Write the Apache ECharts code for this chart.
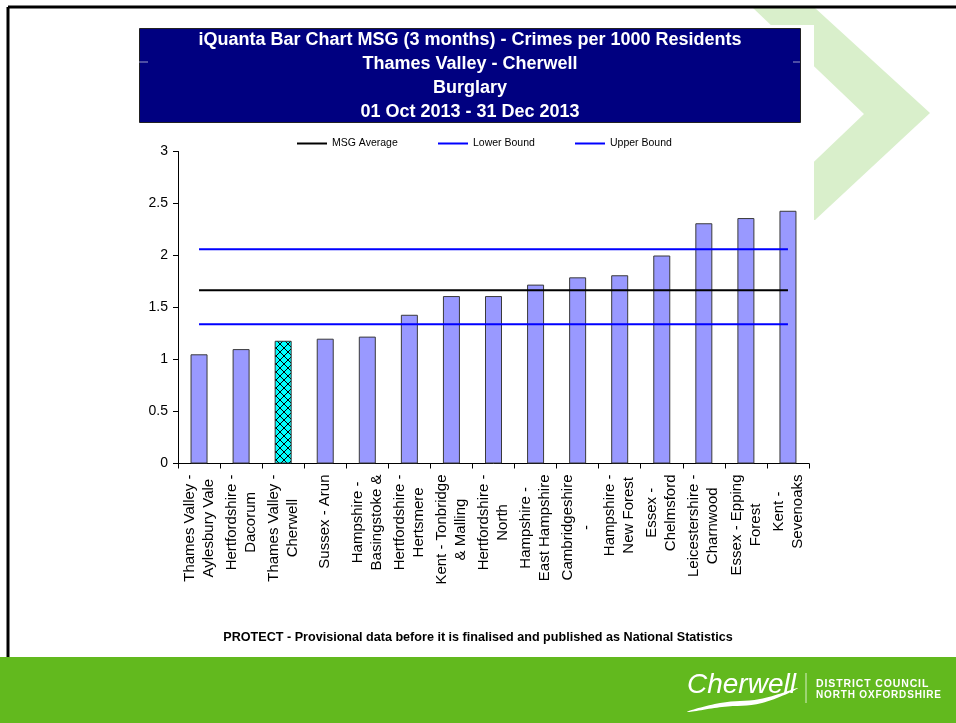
<!DOCTYPE html>
<html><head><meta charset="utf-8">
<script src="https://cdn.jsdelivr.net/npm/echarts@6/dist/echarts.min.js"></script>
<style>html,body{margin:0;padding:0;background:#fff}#c{width:956px;height:723px}</style>
</head><body><div id="c"></div>
<script>
// ---- data ----
const categories = [
  'Thames Valley -\nAylesbury Vale',
  'Hertfordshire -\nDacorum',
  'Thames Valley -\nCherwell',
  'Sussex - Arun',
  'Hampshire -\nBasingstoke &',
  'Hertfordshire -\nHertsmere',
  'Kent - Tonbridge\n& Malling',
  'Hertfordshire -\nNorth',
  'Hampshire -\nEast Hampshire',
  'Cambridgeshire\n-',
  'Hampshire -\nNew Forest',
  'Essex -\nChelmsford',
  'Leicestershire -\nCharnwood',
  'Essex - Epping\nForest',
  'Kent -\nSevenoaks'
];
const crimeRates = [1.05, 1.10, 1.18, 1.20, 1.22, 1.43, 1.61, 1.61, 1.72, 1.79, 1.81, 2.00, 2.31, 2.36, 2.43];
const highlightedCategory = 'Thames Valley -\nCherwell';
const msgAverage = [1.665, 1.665, 1.665, 1.665, 1.665, 1.665, 1.665, 1.665, 1.665, 1.665, 1.665, 1.665, 1.665, 1.665, 1.665];
const lowerBound = [1.34, 1.34, 1.34, 1.34, 1.34, 1.34, 1.34, 1.34, 1.34, 1.34, 1.34, 1.34, 1.34, 1.34, 1.34];
const upperBound = [2.06, 2.06, 2.06, 2.06, 2.06, 2.06, 2.06, 2.06, 2.06, 2.06, 2.06, 2.06, 2.06, 2.06, 2.06];
const yMin = 0, yMax = 3, yInterval = 0.5;
const titleLines = [
  'iQuanta Bar Chart MSG (3 months) - Crimes per 1000 Residents',
  'Thames Valley - Cherwell',
  'Burglary',
  '01 Oct 2013 - 31 Dec 2013'
];
const footnote = 'PROTECT - Provisional data before it is finalised and published as National Statistics';
const seriesNames = ['MSG Average', 'Lower Bound', 'Upper Bound'];

// ---- hatch pattern for highlighted bar ----
const pc = document.createElement('canvas');
pc.width = 8; pc.height = 8;
const g = pc.getContext('2d');
g.fillStyle = '#00FFFF'; g.fillRect(0, 0, 8, 8);
g.strokeStyle = '#000'; g.lineWidth = 1;
g.beginPath(); g.moveTo(0, 0); g.lineTo(8, 8); g.moveTo(8, 0); g.lineTo(0, 8); g.stroke();

const barData = crimeRates.map((v, i) => categories[i] === highlightedCategory
  ? { value: v, itemStyle: { color: { image: pc, repeat: 'repeat' }, borderColor: '#333' } }
  : v);

const FONT = '"Liberation Sans", Arial, sans-serif';
const spaced = s => s.split('').join('\u200A');
const chart = echarts.init(document.getElementById('c'));

const graphics = [
  // chevron decoration
  { type: 'polygon', z: -10, shape: { points: [[753, 8], [815, 8], [930, 113], [815, 220], [753, 220], [864, 114]] }, style: { fill: '#D9EFCB' } },
  // white chart background
  { type: 'rect', z: -9, shape: { x: 139, y: 25, width: 675, height: 625 }, style: { fill: '#fff' } },
  // slide frame
  { type: 'line', z: -8, shape: { x1: 8, y1: 7, x2: 956, y2: 7 }, style: { stroke: '#000', lineWidth: 3 } },
  { type: 'line', z: -8, shape: { x1: 8, y1: 7, x2: 8, y2: 657 }, style: { stroke: '#000', lineWidth: 3 } },
  // title box
  { type: 'rect', z: -7, shape: { x: 139.5, y: 28.5, width: 661, height: 94 }, style: { fill: '#000080', stroke: '#222', lineWidth: 1 } },
  { type: 'line', z: -7, shape: { x1: 139, y1: 62, x2: 148, y2: 62 }, style: { stroke: '#9a9ac8', lineWidth: 1 } },
  { type: 'line', z: -7, shape: { x1: 793, y1: 62, x2: 800, y2: 62 }, style: { stroke: '#9a9ac8', lineWidth: 1 } },
  // footnote
  { type: 'text', x: 478, y: 638, style: { text: footnote, fill: '#000', font: 'bold 12.6px ' + FONT, textAlign: 'center', textVerticalAlign: 'middle' } },
  // green band
  { type: 'rect', z: -8, shape: { x: 0, y: 657, width: 956, height: 66 }, style: { fill: '#62B91E' } },
  // logo
  { type: 'text', x: 687, y: 671, style: { text: 'Cherwell', fill: '#fff', font: 'italic 28px "Liberation Sans", Arial' } },
  { type: 'polygon', shape: { points: [[687, 712], [720, 703], [760, 699], [798, 688], [762, 703], [722, 707]], smooth: 0.4 }, style: { fill: '#fff' } },
  { type: 'line', shape: { x1: 806, y1: 673, x2: 806, y2: 703 }, style: { stroke: '#d8efc8', lineWidth: 1 } },
  { type: 'text', x: 816, y: 679, style: { text: spaced('DISTRICT COUNCIL'), fill: '#fff', font: 'bold 10.5px "Liberation Sans", Arial' } },
  { type: 'text', x: 816, y: 690, style: { text: spaced('NORTH OXFORDSHIRE'), fill: '#fff', font: 'bold 10px "Liberation Sans", Arial' } }
];
titleLines.forEach((t, i) => {
  graphics.push({ type: 'text', x: 470, y: 40 + i * 24, style: { text: t, fill: '#fff', font: 'bold 18px ' + FONT, textAlign: 'center', textVerticalAlign: 'middle' } });
});

const legendBase = {
  orient: 'horizontal', top: 138, padding: 0, icon: 'rect', itemWidth: 30, itemHeight: 2,
  textStyle: { fontSize: 10.5, color: '#000', fontFamily: FONT }
};

chart.setOption({
  animation: false,
  backgroundColor: '#fff',
  textStyle: { fontFamily: FONT },
  graphic: graphics,
  legend: [
    Object.assign({ data: [seriesNames[0]], left: 297 }, legendBase),
    Object.assign({ data: [seriesNames[1]], left: 438 }, legendBase),
    Object.assign({ data: [seriesNames[2]], left: 575 }, legendBase)
  ],
  grid: { left: 178, right: 147, top: 151.5, bottom: 259.5, containLabel: false },
  xAxis: {
    type: 'category', data: categories, boundaryGap: true,
    axisLine: { lineStyle: { color: '#000', width: 1 } },
    axisTick: { show: true, length: 5, inside: false, lineStyle: { color: '#000' } },
    axisLabel: {
      interval: 0, rotate: 90, margin: 11, color: '#000',
      formatter: v => v.split('\n').map(s => '{c|' + s + '}').join('\n'),
      rich: { c: { align: 'center', fontSize: 15, lineHeight: 19, color: '#000', fontFamily: FONT } }
    }
  },
  yAxis: {
    type: 'value', min: yMin, max: yMax, interval: yInterval,
    axisLine: { show: true, lineStyle: { color: '#000' } },
    axisTick: { show: true, length: 5, lineStyle: { color: '#000' } },
    splitLine: { show: false },
    axisLabel: { fontSize: 14, color: '#000', margin: 10, fontFamily: FONT }
  },
  series: [
    { type: 'bar', data: barData, barWidth: 17, z: 2,
      itemStyle: { color: '#9999FF', borderColor: '#3a3a3a', borderWidth: 1 } },
    { name: seriesNames[0], type: 'line', data: msgAverage, symbol: 'none', z: 5,
      lineStyle: { color: '#000', width: 2 }, itemStyle: { color: '#000' } },
    { name: seriesNames[1], type: 'line', data: lowerBound, symbol: 'none', z: 5,
      lineStyle: { color: '#0000FF', width: 2 }, itemStyle: { color: '#0000FF' } },
    { name: seriesNames[2], type: 'line', data: upperBound, symbol: 'none', z: 5,
      lineStyle: { color: '#0000FF', width: 2 }, itemStyle: { color: '#0000FF' } }
  ]
});
</script>
</body></html>
